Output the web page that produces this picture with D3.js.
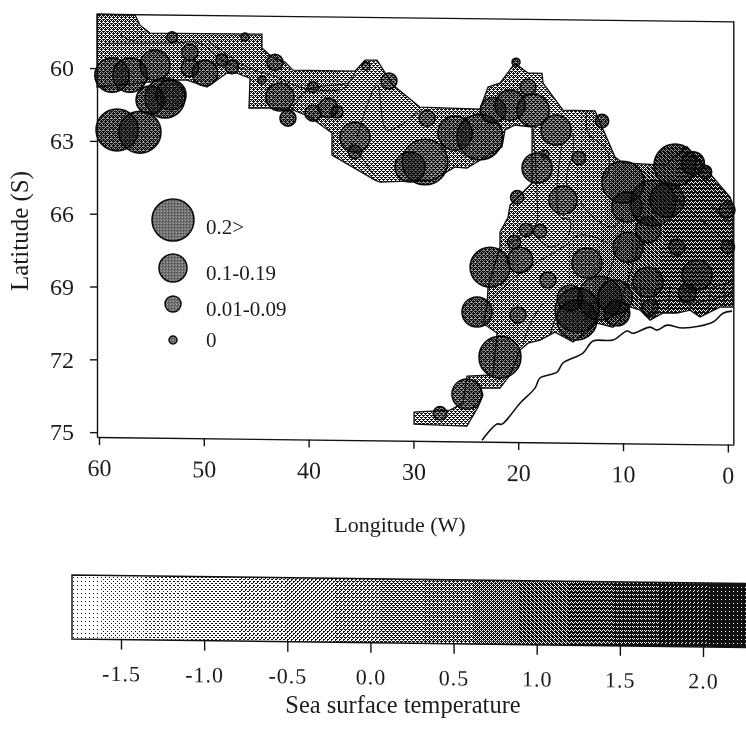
<!DOCTYPE html>
<html>
<head>
<meta charset="utf-8">
<script src="https://cdnjs.cloudflare.com/ajax/libs/d3/7.8.5/d3.min.js"></script>
<style>
html, body { margin: 0; padding: 0; background: #fff; }
svg { display: block; }
text { font-family: "Liberation Serif", serif; fill: #1c1c1c; }
.axis path, .axis line { stroke: #111; stroke-width: 1.4; }
</style>
</head>
<body>
<div id="canvas"></div>
<script>
const lonTicks = [60, 50, 40, 30, 20, 10, 0];
const latTicks = [60, 63, 66, 69, 72, 75];
const tempTicks = [-1.5, -1.0, -0.5, 0.0, 0.5, 1.0, 1.5, 2.0];

// legend classes
const legendLabels = ["0.2>", "0.1-0.19", "0.01-0.09", "0"];
const legendValues = [0.2, 0.1, 0.03, 0];

// stations: lon, lat, value
const stations = [
  [58.76,60.28,.145],[57.04,60.27,.145],[54.66,59.85,.115],[58.28,62.54,.2],[56.09,62.62,.2],
  [55.13,61.29,.1],[53.70,61.20,.185],[53.13,61.07,.115],[51.32,59.30,.03],[49.89,60.15,.085],
  [51.32,59.95,.04],[48.28,59.61,.015],[47.31,59.89,.02],[53.03,58.69,.01],[46.07,58.65,0],
  [43.21,59.67,.03],[44.45,60.41,0],[42.73,61.10,.1],[41.97,61.97,.03],[39.58,60.68,.01],
  [39.58,61.75,.03],[38.15,61.53,.05],[37.29,61.69,.015],[34.52,59.79,0],[32.33,60.39,.03],
  [35.57,62.72,.115],[35.57,63.33,.02],[30.32,63.92,.115],[28.89,63.71,.23],[26.03,62.50,.145],
  [23.65,62.65,.23],[22.40,61.54,.085],[20.78,61.32,.115],[18.59,61.52,.13],[16.39,62.33,.115],
  [28.70,61.90,.03],[20.21,59.55,0],[19.07,60.57,.03],[12.0,61.93,.02],[14.2,63.47,.02],
  [17.44,63.32,0],[18.2,63.90,.115],[20.1,65.11,.02],[15.73,65.21,.1],[10.0,64.44,.2],
  [9.62,65.46,.115],[5.04,63.71,.2],[3.32,63.62,.07],[2.17,63.98,.02],[0.08,65.54,.03],
  [7.14,65.29,.23],[5.80,65.16,.145],[7.61,66.40,.085],[9.52,67.12,.115],[4.85,67.09,.03],
  [0.0,67.06,.02],[19.26,66.46,.02],[17.92,66.50,.02],[20.40,66.96,.02],[19.83,67.70,.085],
  [22.69,68.01,.185],[17.16,68.51,.03],[13.44,67.79,.115],[23.93,69.86,.115],[20.02,69.97,.03],
  [7.61,68.55,.115],[2.94,68.23,.115],[7.42,69.58,.03],[3.88,68.98,.04],[14.39,69.73,.215],
  [14.39,70.14,.185],[12.2,69.23,.215],[10.76,69.18,.145],[10.57,69.84,.085],[15.06,69.24,.085],
  [21.74,71.71,.2],[24.89,73.25,.115],[27.46,74.05,.02]
];

// outline of the surveyed area
const regionOutline = [
  [60.19,57.78],[56.56,57.80],[56.09,58.21],[55.13,58.53],[44.45,58.52],[44.45,59.09],[43.49,59.46],
  [42.25,59.66],[41.49,59.99],[35.57,60.0],[34.62,59.54],[33.47,59.53],[31.95,60.55],[29.37,61.45],
  [23.65,61.50],[22.88,60.59],[21.74,60.42],[20.31,59.59],[19.07,59.99],[17.73,60.0],[17.63,60.40],
  [15.73,61.50],[12.67,61.52],[10.76,63.41],[10.0,63.65],[5.99,63.72],[3.88,62.96],[-0.21,65.0],
  [-0.5,65.33],[-0.5,69.53],[0.76,69.54],[2.65,69.96],[3.6,69.68],[4.85,69.81],[6.18,69.81],
  [7.42,70.11],[8.38,69.70],[9.33,69.58],[10.95,70.42],[12.48,70.26],[14.1,70.84],[14.77,71.05],
  [16.49,70.65],[17.92,70.99],[19.07,71.12],[19.83,71.41],[20.78,72.44],[21.74,72.99],[23.65,73.0],
  [23.36,73.28],[23.84,73.78],[24.89,74.57],[29.94,74.51],[29.94,74.02],[26.50,73.92],[25.27,73.62],
  [24.89,72.51],[22.40,72.45],[22.02,70.72],[23.36,70.32],[22.98,69.65],[22.88,68.83],[21.74,67.18],
  [21.74,66.56],[20.97,65.94],[20.78,65.44],[18.68,64.52],[18.68,62.22],[20.31,62.14],[21.26,62.35],
  [21.55,63.05],[24.89,63.94],[26.03,63.90],[28.13,64.45],[33.19,64.56],[33.66,64.48],[37.77,63.47],
  [37.77,62.56],[39.87,61.91],[41.49,61.63],[43.40,61.56],[45.69,61.57],[45.59,60.34],[46.83,60.14],
  [47.79,60.14],[49.69,60.73],[51.60,60.45],[53.22,60.46],[60.19,60.78]
];

// temperature bands: edge longitude at lat 57 and at lat 76, temperature between edges
const bandEdgeNorth = [62, 43, 37, 29, 20, 13, 8.1, 5, 2, -3];
const bandEdgeSouth = [62, 43, 37, 24, 20, 17, 15.9, 13, 10, -3];
const bandTemp = [0.6, 0.45, 0.15, 0.4, 0.1, 0.35, 0.85, 1.15, 1.45];
const bandLatNorth = 57, bandLatSouth = 76;

const contours = [
  [[59.43,58.97],[52.94,58.93],[50.36,58.92],[48.0,59.69],[45.78,60.01]],
  [[58.0,58.6],[56.8,58.85],[55.9,58.62]],
  [[49.69,58.79],[45.88,59.88],[43.02,60.28],[40.53,60.72],[36.53,60.70],[35.86,60.16]],
  [[41.77,61.76],[40.15,60.80],[36.05,60.45],[35.57,60.04]],
  [[35.38,62.72],[33.47,60.56],[32.51,62.41],[29.37,61.57]],
  [[36.0,62.9],[33.7,64.3]],
  [[18.59,62.22],[18.2,65.10],[18.4,66.34],[20.78,67.0]],
  [[15.82,62.86],[16.3,64.80],[16.01,65.91],[15.06,66.03],[15.34,66.73],[16.96,67.15],[18.59,66.54]],
  [[14.77,62.44],[14.77,63.27],[15.34,64.10],[15.34,64.80]],
  [[13.44,61.57],[13.34,62.44],[11.53,63.13],[11.44,64.08],[11.9,64.36]],
  [[14.1,65.28],[12.48,66.02],[10.95,66.30],[10.0,65.88]],
  [[22.69,69.37],[19.83,68.24],[15.73,67.14],[14.1,66.64],[12.48,66.76],[11.53,66.96]],
  [[17.63,69.46],[18.68,70.17],[19.54,71.12]],
  [[16.01,69.53],[17.16,70.98]],
  [[10.0,66.21],[11.24,68.07],[13.63,70.14]],
  [[8.38,66.82],[9.52,68.47],[10.76,70.13]],
  [[8.38,68.67],[8.19,69.79]],
  [[6.95,68.87],[7.23,70.02]],
  [[5.52,68.66],[5.71,69.89]],
  [[3.6,68.94],[3.6,69.76]],
  [[1.7,68.85],[1.89,70.0]],
  [[0.36,68.63],[0.36,69.58]],
  [[9.33,69.17],[7.42,69.37],[5.52,69.27],[3.6,69.39],[1.79,69.26],[-0.5,68.96]],
  [[9.33,68.67],[7.42,68.87],[5.52,68.77],[3.6,68.89],[1.79,68.76],[-0.5,68.46]],
  [[3.6,63.7],[-0.9,65.74]],
  [[4.75,64.12],[-0.9,66.36]],
  [[5.33,64.95],[-0.9,67.18]]
];

const coastline = [
  [23.45,75.14],[22.02,74.47],[21.55,74.47],[19.83,73.6],[18.4,72.97],[17.92,72.55],[16.3,72.3],
  [15.73,71.92],[13.82,71.5],[12.86,71.0],[10.95,70.95],[9.62,70.57],[9.05,70.66],[7.42,70.4],
  [6.76,70.52],[5.8,70.31],[4.27,70.42],[1.41,70.16],[0.46,69.79],[-0.4,69.7]
];

const W = 746, H = 745;
const svg = d3.select("#canvas").append("svg").attr("width", W).attr("height", H);
const defs = svg.append("defs");

// the scanned page is slightly sheared
const tilt = 0.012, barTilt = 0.0125;

const x = d3.scaleLinear().domain([60.19, -0.57]).range([97, 733.8]);
const y = d3.scaleLinear().domain([57.78, 75.2]).range([14.2, 437]);
const x0 = x.range()[0];
const tempX = d3.scaleLinear().domain([-1.5, 2]).range([121, 703]);
const rScale = d3.scaleLinear().domain([0, .03, .1, .2, .35]).range([4, 8, 14, 21, 30]);
const density = d3.scaleLinear().domain([-1.8, 2.26]).range([0.06, 0.96]).clamp(true);

const px = d => x(d[0]);
const py = d => y(d[1]) + tilt * (x(d[0]) - x0);
const line = d3.line().x(px).y(py);
const curve = d3.line().x(px).y(py).curve(d3.curveCatmullRom);

// 45 degree halftone screen, two dots per tile
const screen = [
  [10, 8, 11, 5],
  [6, 0, 2, 12],
  [13, 4, 14, 9],
  [3, 15, 7, 1]
];
const levels = 16;
d3.range(levels + 1).forEach(l => {
  const p = defs.append("pattern").attr("id", "ht" + l)
    .attr("patternUnits", "userSpaceOnUse")
    .attr("width", 4).attr("height", 4);
  p.append("rect").attr("width", 4).attr("height", 4).attr("fill", "#fff");
  screen.forEach((row, r) => row.forEach((v, c) => {
    if (v < l) p.append("rect").attr("x", c).attr("y", r)
      .attr("width", 1).attr("height", 1).attr("fill", "#111");
  }));
});
const halftone = t => `url(#ht${Math.round(density(t) * levels)})`;

defs.append("clipPath").attr("id", "regionClip")
  .append("path").attr("d", line(regionOutline) + "Z");
defs.append("clipPath").attr("id", "stationClip")
  .selectAll("circle").data(stations).join("circle")
  .attr("cx", px).attr("cy", py).attr("r", d => rScale(d[2]));

function addTone(id, shades) {
  const p = defs.append("pattern").attr("id", id)
    .attr("patternUnits", "userSpaceOnUse").attr("width", 3).attr("height", 3);
  p.append("rect").attr("width", 3).attr("height", 3).attr("fill", shades[0]);
  d3.range(3).forEach(i => p.append("rect").attr("x", i).attr("y", i)
    .attr("width", 1).attr("height", 1).attr("fill", shades[i + 1]));
}
addTone("mapTone", ["#8c8c8c", "#c6c6c6", "#666", "#a6a6a6"]);
addTone("legendTone", ["#6e6e6e", "#a8a8a8", "#444", "#8a8a8a"]);

// Temperature field, also under stations that overhang the outline
function drawField(g) {
  bandTemp.forEach((t, i) => {
    const ring = [
      [bandEdgeNorth[i], bandLatNorth], [bandEdgeNorth[i + 1], bandLatNorth],
      [bandEdgeSouth[i + 1], bandLatSouth], [bandEdgeSouth[i], bandLatSouth]
    ];
    g.append("path").attr("d", line(ring) + "Z").attr("fill", halftone(t)).attr("shape-rendering", "crispEdges");
  });
  g.append("g").selectAll("path").data(contours).join("path")
    .attr("d", curve)
    .attr("fill", "none").attr("stroke", "#111").attr("stroke-width", 1);
}
svg.append("g").attr("clip-path", "url(#stationClip)").call(drawField);
svg.append("g").attr("clip-path", "url(#regionClip)").call(drawField);

svg.append("path").attr("d", line(regionOutline) + "Z")
  .attr("fill", "none").attr("stroke", "#111").attr("stroke-width", 1.3);

// Stations
function drawBubbles(g, tone) {
  g.append("circle").attr("r", d => d.r).attr("fill", `url(#${tone})`)
    .style("mix-blend-mode", "multiply")
    .attr("stroke", "#0a0a0a").attr("stroke-width", 1.5);
}
svg.append("g").selectAll("g").data(stations).join("g")
  .attr("transform", d => `translate(${px(d)},${py(d)})`)
  .each(function (d) { d.r = rScale(d[2]); })
  .call(drawBubbles, "mapTone");

// Coastline
svg.append("path").attr("d", curve(coastline))
  .attr("fill", "none").attr("stroke", "#111").attr("stroke-width", 1.6);

// Axes
const shear = (t, ox, oy) => `matrix(1,${t},0,1,${ox},${oy})`;

svg.append("g").attr("class", "axis")
  .attr("transform", shear(tilt, 0, y.range()[1] - tilt * x0))
  .call(d3.axisBottom(x).tickValues(lonTicks).tickSize(8).tickPadding(14).tickFormat(d => d).tickSizeOuter(0))
  .call(g => g.selectAll("text").attr("font-size", 24).style("font-family", "'Liberation Serif', serif"));

svg.append("g").attr("class", "axis")
  .attr("transform", `translate(${x0},0)`)
  .call(d3.axisLeft(y).tickValues(latTicks).tickSize(7).tickPadding(16).tickSizeOuter(0))
  .call(g => g.selectAll("text").attr("font-size", 24).style("font-family", "'Liberation Serif', serif"));

// frame top and right
svg.append("path")
  .attr("d", d3.line()([
    [x0, y.range()[0]],
    [x.range()[1], y.range()[0] + tilt * (x.range()[1] - x0)],
    [x.range()[1], y.range()[1] + tilt * (x.range()[1] - x0)]
  ]))
  .attr("fill", "none").attr("stroke", "#111").attr("stroke-width", 1.4);

svg.append("text").attr("x", 400).attr("y", 532).attr("text-anchor", "middle")
  .attr("font-size", 22).text("Longitude (W)");
svg.append("text").attr("transform", "translate(28,231) rotate(-90)").attr("text-anchor", "middle")
  .attr("font-size", 25).text("Latitude (S)");

// Legend
const legendY = [220, 268, 304, 340];
const legendTextY = [234, 280, 316, 347];
const legendData = legendValues.map((v, i) => ({ r: rScale(v), label: legendLabels[i], y: legendY[i], ty: legendTextY[i] }));
svg.append("g").selectAll("g").data(legendData).join("g")
  .attr("transform", d => `translate(173,${d.y})`)
  .call(drawBubbles, "legendTone");
svg.append("g").selectAll("text").data(legendData).join("text")
  .attr("x", 206).attr("y", d => d.ty).attr("font-size", 21).text(d => d.label);

// Colour bar
const barLeft = 72, barTop = 575, barBottom = 639;
const barY = (px0, v) => v + barTilt * (px0 - barLeft);
const barStep = 0.03;
const barTemps = d3.range(-1.8, 2.3, barStep);
svg.append("g").attr("shape-rendering", "crispEdges").selectAll("path").data(barTemps).join("path")
  .attr("d", t => {
    const a = tempX(t), b = tempX(t + barStep) + 0.5;
    return d3.line()([[a, barY(a, barTop)], [b, barY(b, barTop)], [b, barY(b, barBottom)], [a, barY(a, barBottom)]]) + "Z";
  })
  .attr("fill", t => halftone(t));
svg.append("path")
  .attr("d", d3.line()([
    [W + 10, barY(W + 10, barTop)], [barLeft, barTop], [barLeft, barBottom], [W + 10, barY(W + 10, barBottom)]
  ]))
  .attr("fill", "none").attr("stroke", "#111").attr("stroke-width", 1.4);

svg.append("g").attr("class", "axis")
  .attr("transform", shear(barTilt, 0, barBottom - barTilt * barLeft))
  .call(d3.axisBottom(tempX).tickValues(tempTicks).tickSize(10).tickPadding(16).tickFormat(d => d.toFixed(1)).tickSizeOuter(0))
  .call(g => g.select(".domain").remove())
  .call(g => g.selectAll("text").attr("font-size", 22).style("font-family", "'Liberation Serif', serif").attr("letter-spacing", 1));

svg.append("text").attr("x", 403).attr("y", 713).attr("text-anchor", "middle")
  .attr("font-size", 24.5).text("Sea surface temperature");
</script>
</body>
</html>
